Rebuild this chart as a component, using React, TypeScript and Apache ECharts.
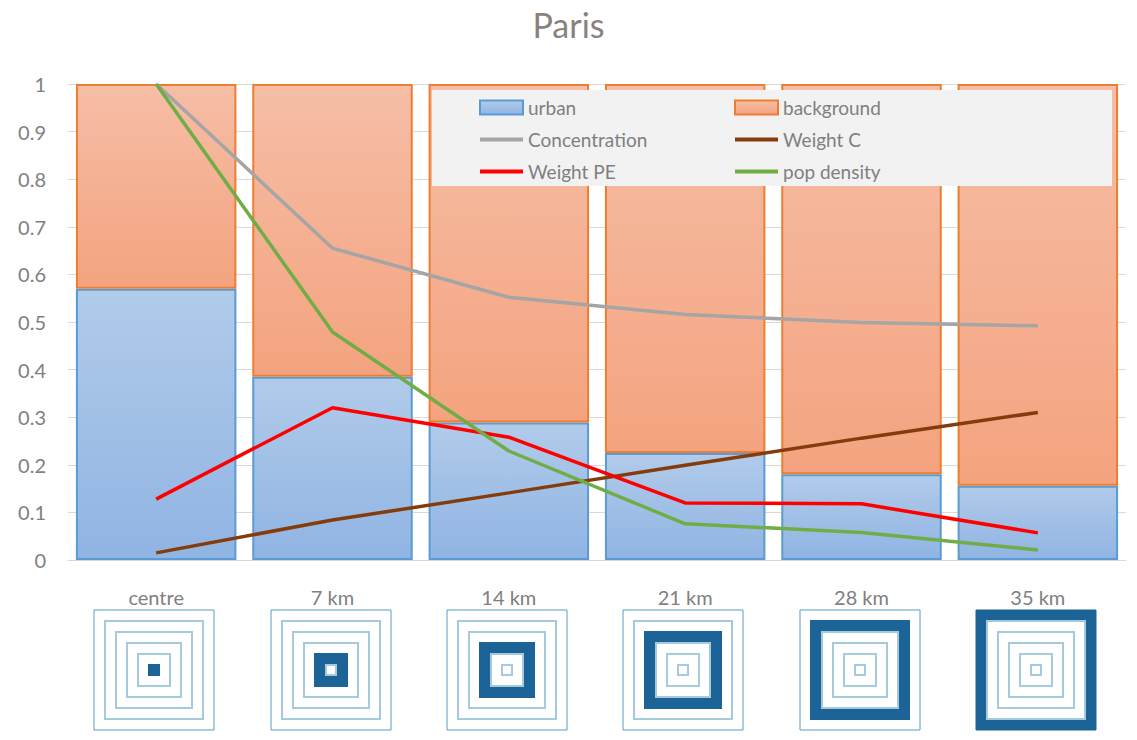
import React, { useEffect, useRef } from "react";
import * as echarts from "echarts";

const categories = ["centre", "7 km", "14 km", "21 km", "28 km", "35 km"];
const urban = [0.57, 0.385, 0.289, 0.225, 0.18, 0.156];
const background = [0.43, 0.615, 0.711, 0.775, 0.82, 0.844];
const concentration = [1, 0.655, 0.552, 0.516, 0.499, 0.492];
const weightC = [0.015, 0.084, 0.141, 0.199, 0.256, 0.31];
const weightPE = [0.128, 0.32, 0.258, 0.12, 0.118, 0.057];
const popDensity = [1, 0.479, 0.229, 0.076, 0.058, 0.021];
const highlightRing = [0, 1, 2, 3, 4, 5];
const yTicks = [0, 0.1, 0.2, 0.3, 0.4, 0.5, 0.6, 0.7, 0.8, 0.9, 1];

const FONT = "Lato, 'Noto Sans', sans-serif";
const GRAY = "#808080";

export default function App() {
  const ref = useRef<HTMLDivElement>(null);
  useEffect(() => {
    document.body.style.margin = "0";
    const chart = echarts.init(ref.current!, undefined, { renderer: "svg" });
    const lineSeries = (name: string, data: number[], color: string) => ({
      name,
      type: "line",
      data,
      symbol: "none",
      lineStyle: { color, width: 3.5 },
      itemStyle: { color },
      z: 3,
    });
    const lineItem = (name: string) => ({
      name,
      itemStyle: { opacity: 0 },
      lineStyle: { width: 4 },
    });
    const iconSizes = [120, 98, 76, 54, 32, 10];
    const dark = "#1c6397";
    const legendCommon = {
      orient: "vertical",
      top: 98,
      z: 20,
      padding: 0,
      itemWidth: 43,
      itemHeight: 14,
      itemGap: 13,
      textStyle: { fontFamily: FONT, fontSize: 19, color: GRAY },
    };
    chart.setOption({
      animation: false,
      title: {
        text: "Paris",
        left: "center",
        top: 2,
        textStyle: { fontFamily: FONT, fontSize: 34, fontWeight: "normal", color: "#8a817d" },
      },
      grid: { left: 68, right: 11, top: 84, bottom: 180, containLabel: false },
      graphic: [
        {
          type: "rect",
          z: 10,
          shape: { x: 432, y: 90, width: 680, height: 96 },
          style: { fill: "#f2f2f2" },
        },
      ],
      legend: [
        {
          ...legendCommon,
          left: 478,
          data: [{ name: "urban", icon: "rect" }, lineItem("Concentration"), lineItem("Weight PE")],
        },
        {
          ...legendCommon,
          left: 733,
          data: [{ name: "background", icon: "rect" }, lineItem("Weight C"), lineItem("pop density")],
        },
      ],
      xAxis: {
        type: "category",
        data: categories,
        axisLine: { lineStyle: { color: "#d9d9d9", width: 1 } },
        axisTick: { show: false },
        axisLabel: { fontFamily: FONT, fontSize: 20, color: GRAY, margin: 27 },
      },
      yAxis: {
        type: "value",
        min: 0,
        max: 1,
        interval: 0.1,
        axisLabel: {
          fontFamily: FONT,
          fontSize: 20,
          color: GRAY,
          margin: 22,
          formatter: (v: number) => {
            const t = yTicks.find((x) => Math.abs(x - v) < 1e-6);
            return String(t ?? v);
          },
        },
        splitLine: { lineStyle: { color: "#d9d9d9", width: 1 } },
        axisLine: { show: false },
      },
      series: [
        {
          name: "urban",
          type: "bar",
          stack: "total",
          barCategoryGap: "9%",
          data: urban,
          itemStyle: {
            color: new echarts.graphic.LinearGradient(0, 0, 0, 1, [
              { offset: 0, color: "#b1cbea" },
              { offset: 1, color: "#90b4e3" },
            ]),
            borderColor: "#5b9bd5",
            borderWidth: 2,
          },
        },
        {
          name: "background",
          type: "bar",
          stack: "total",
          barCategoryGap: "9%",
          data: background,
          itemStyle: {
            color: new echarts.graphic.LinearGradient(0, 0, 0, 1, [
              { offset: 0, color: "#f6bea6" },
              { offset: 1, color: "#f4a37f" },
            ]),
            borderColor: "#ed7d31",
            borderWidth: 2,
          },
        },
        lineSeries("Concentration", concentration, "#a5a5a5"),
        lineSeries("Weight C", weightC, "#843c0c"),
        lineSeries("Weight PE", weightPE, "#ff0000"),
        lineSeries("pop density", popDensity, "#70ad47"),
        {
          name: "icons",
          type: "custom",
          clip: false,
          silent: true,
          data: highlightRing.map((r, i) => [i, 0, r]),
          renderItem: (params: any, api: any) => {
            const p = api.coord([api.value(0), 0]);
            const cx = Math.round(p[0]) - 2;
            const cy = p[1] + 110;
            const r = api.value(2);
            const darkIdx = 5 - r;
            const whiteIdx = 6 - r;
            const children = iconSizes.map((s, k) => {
              let fill = "#ffffff";
              let stroke = k === 0 ? "#5a9bc0" : "#a5cadb";
              const lw = k === 0 ? 1 : 2;
              if (k === darkIdx) {
                fill = dark;
                stroke = dark;
              }
              if (k === whiteIdx) {
                fill = "#ffffff";
              }
              return {
                type: "rect",
                shape: { x: cx - s / 2, y: cy - s / 2, width: s, height: s },
                style: { fill, stroke, lineWidth: lw },
              };
            });
            return { type: "group", children };
          },
        },
      ],
    });
    return () => chart.dispose();
  }, []);
  return <div ref={ref} style={{ width: 1137, height: 740 }} />;
}
